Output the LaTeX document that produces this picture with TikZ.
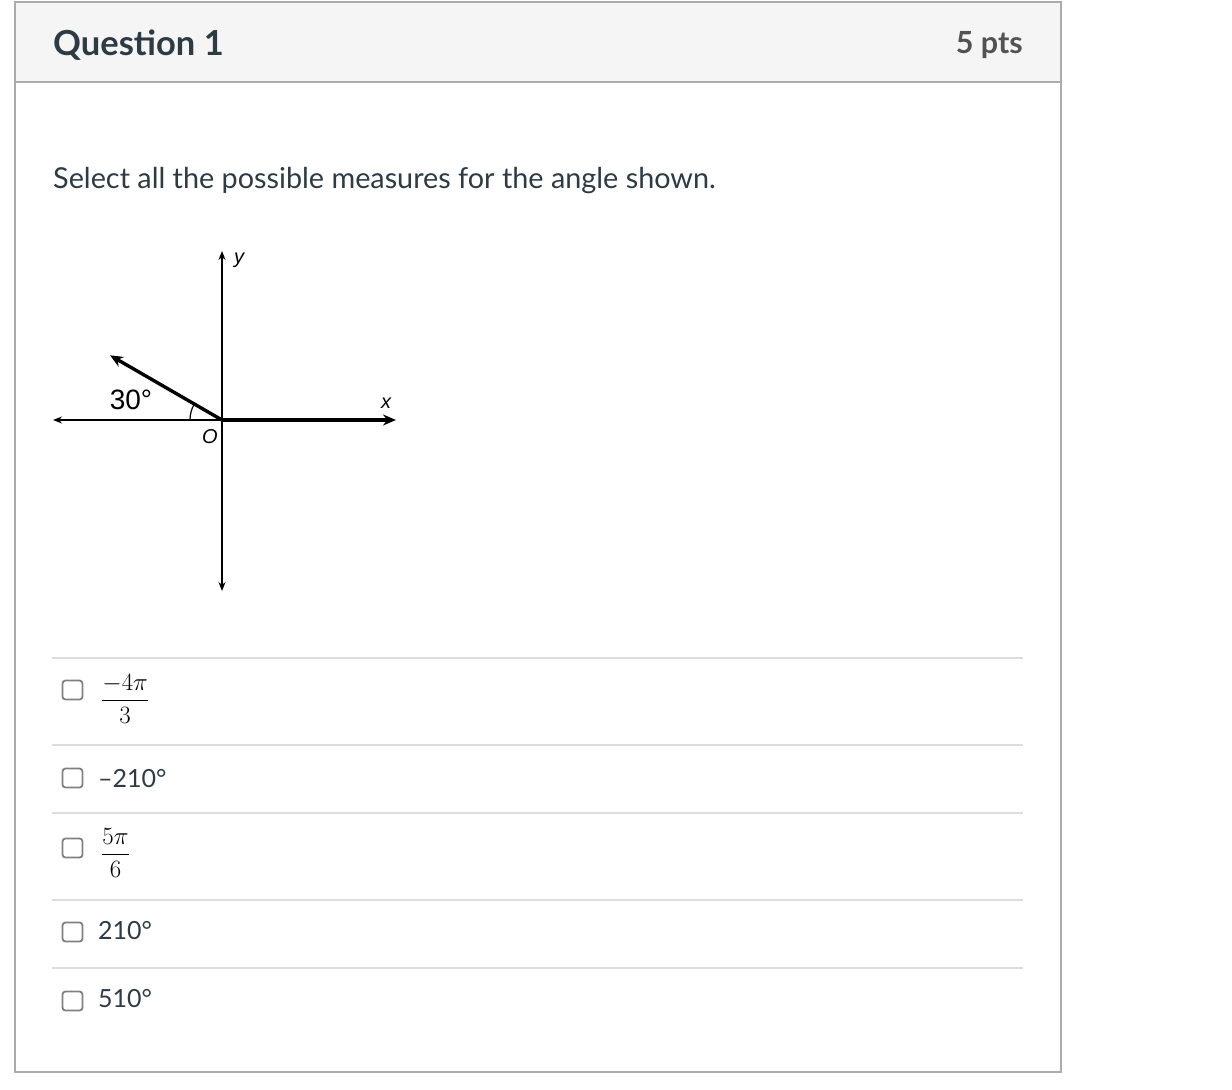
\documentclass[tikz,border=0pt]{standalone}
\usepackage[no-math]{fontspec}
\usepackage{amsmath}
\setmainfont{Lato}
\newfontfamily\figfont{Liberation Sans}
\usepackage{xcolor}
\usetikzlibrary{arrows.meta}
\definecolor{canvastext}{HTML}{2D3B45}
\definecolor{boxline}{HTML}{ABABAB}
\definecolor{headfill}{HTML}{F5F5F5}
\definecolor{sepline}{HTML}{DDDDDD}
\definecolor{checkline}{HTML}{808080}
\tikzset{
  panel/.style={draw=boxline, line width=2pt},
  divider/.style={draw=sepline, line width=2pt},
  title/.style={
    anchor=base west, inner sep=0pt, text=canvastext,
    font=\fontsize{34.5}{40}\selectfont\bfseries
  },
  points/.style={
    anchor=base east, inner sep=0pt, text=black!68,
    font=\fontsize{30.5}{36}\selectfont\bfseries
  },
  prompt/.style={
    anchor=base west, inner sep=0pt, text=canvastext,
    font=\fontsize{28.8}{34}\selectfont
  },
  checkbox/.style={
    rectangle, draw=checkline, line width=1.8pt, rounded corners=3pt,
    minimum width=20pt, minimum height=19pt, inner sep=0pt
  },
  answer/.style={
    anchor=base west, inner sep=0pt, text=canvastext,
    font=\fontsize{25}{30}\selectfont
  },
  fracanswer/.style={
    anchor=west, inner sep=0pt, text=black,
    font=\fontsize{24}{28}\selectfont
  },
  thinaxis/.style={line width=1.4pt, -{Stealth[length=9pt,width=7pt]}},
  bothaxis/.style={line width=1.4pt,
    {Stealth[length=9pt,width=7pt]}-{Stealth[length=9pt,width=7pt]}},
  thickaxis/.style={line width=3.4pt, -{Stealth[length=13pt,width=11pt]}},
  axislabel/.style={inner sep=0pt, font=\figfont\itshape\fontsize{20}{24}\selectfont},
  anglelabel/.style={inner sep=0pt, font=\figfont\fontsize{28}{32}\selectfont},
}

\begin{document}
\begin{tikzpicture}[x=1pt, y=-1pt]
  \useasboundingbox (0,0) rectangle (1232,1090);

  % Panel
  \fill[headfill] (15,2) rectangle (1061,82);
  \draw[panel] (15,2) rectangle (1061,1072);
  \draw[panel] (15,82) -- (1061,82);

  % Header
  \node[title] (qtitle) at (53,55) {Question 1};
  \node[points] (qpts) at (1023,53) {5 pts};
  \node[prompt] (qtext) at (53,188) {Select all the possible measures for the angle shown.};

  % Axes
  \coordinate (O) at (222,420);
  \coordinate (xl) at (53,420);
  \coordinate (xr) at (396,420);
  \coordinate (yt) at (222,251);
  \coordinate (yb) at (222,591);
  \coordinate (ray) at (110,355.3);
  \draw[thinaxis] (O) -- (xl);
  \draw[bothaxis] (yb) -- (yt);
  \draw[thickaxis] (O) -- (xr);
  \draw[thickaxis] (O) -- (ray);
  \draw[line width=1.2pt] (O) ++(180:32) arc (180:210:32);

  % Axis labels
  \node[axislabel] (ylab) at (239,260) {y};
  \node[axislabel] (xlab) at (386,403) {x};
  \node[axislabel] (olab) at (210,437) {O};
  \node[anglelabel] (ang) at (131,400) {30°};

  % Answers
  \draw[divider] (52,658) -- (1023,658);
  \node[checkbox] (c1) at (72.5,690) {};
  \node[fracanswer] (a1) at (101,699) {$\dfrac{-4\pi}{3}$};
  \draw[divider] (52,745) -- (1023,745);
  \node[checkbox] (c2) at (72.5,778) {};
  \node[answer] (a2) at (98,787.5) {--210°};
  \draw[divider] (52,813) -- (1023,813);
  \node[checkbox] (c3) at (72.5,848) {};
  \node[fracanswer] (a3) at (101,853) {$\dfrac{5\pi}{6}$};
  \draw[divider] (52,900) -- (1023,900);
  \node[checkbox] (c4) at (72.5,932) {};
  \node[answer] (a4) at (98,939.5) {210°};
  \draw[divider] (52,968) -- (1023,968);
  \node[checkbox] (c5) at (72.5,1001) {};
  \node[answer] (a5) at (98,1007.5) {510°};
\end{tikzpicture}
\end{document}
